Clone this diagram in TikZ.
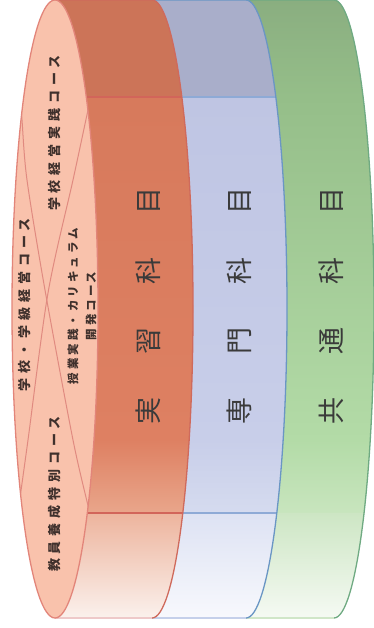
\documentclass[tikz,border=0pt]{standalone}
\usepackage{fontspec}
\usetikzlibrary{shapes.geometric}
\newfontfamily\jp{Noto Sans CJK JP}
\newfontfamily\jpls[LetterSpace=38]{Noto Sans CJK JP}
\newfontfamily\jplsb[LetterSpace=26]{Noto Sans CJK JP}
\definecolor{redTop}{HTML}{CC7458}
\definecolor{redMidA}{HTML}{D77A5C}
\definecolor{redMidB}{HTML}{DE8062}
\definecolor{redLowA}{HTML}{E9A68B}
\definecolor{redLowB}{HTML}{EDB49D}
\definecolor{redBot}{HTML}{FBF2EE}
\definecolor{redEdge}{HTML}{CF6A5C}
\definecolor{redLine}{HTML}{D2655A}
\definecolor{redBotEdge}{HTML}{EEC9C9}
\definecolor{blueTop}{HTML}{A9AECA}
\definecolor{blueMidA}{HTML}{BFC5E3}
\definecolor{blueMidB}{HTML}{C8CEE9}
\definecolor{blueLowA}{HTML}{D5DBEF}
\definecolor{blueLowB}{HTML}{DDE2F3}
\definecolor{blueBot}{HTML}{F8F9FD}
\definecolor{blueEdge}{HTML}{6A96C4}
\definecolor{blueLine}{HTML}{8EAAD6}
\definecolor{blueBotEdge}{HTML}{C5D0EA}
\definecolor{greenTopA}{HTML}{8AAE80}
\definecolor{greenTopB}{HTML}{95BE89}
\definecolor{greenMidB}{HTML}{B3DBA7}
\definecolor{greenLowA}{HTML}{C8E5BE}
\definecolor{greenLowB}{HTML}{CDE6C4}
\definecolor{greenBot}{HTML}{F6FAF4}
\definecolor{greenEdge}{HTML}{6FAA82}
\definecolor{greenBotEdge}{HTML}{D0E6C8}
\definecolor{faceFill}{HTML}{F9C2AC}
\definecolor{faceEdge}{HTML}{E2857A}
\definecolor{faceLine}{HTML}{E08A80}
\definecolor{bandText}{HTML}{3A3A3A}
\definecolor{faceText}{HTML}{3F302C}
\tikzset{
  bandlabel/.style={rotate=90, inner sep=0pt, text=bandText, font=\fontsize{27}{27}\jp},
  facelabel/.style={rotate=90, inner sep=0pt, text=faceText, font=\fontsize{13}{18}\jpls\bfseries},
  facelabelsmall/.style={rotate=90, inner sep=0pt, text=faceText, align=center, font=\fontsize{11.5}{18}\jplsb\bfseries},
  faceline/.style={draw=faceLine, line width=1pt},
}
\newcommand{\gap}{\hspace{43pt}}
\begin{document}
\begin{tikzpicture}[x=1pt,y=1pt]
\useasboundingbox (0,0) rectangle (374,-628);
% ---------- green band ----------
\begin{scope}
\clip (246,0) -- (334,0) arc[start angle=90,end angle=-90,x radius=40pt,y radius=309pt] -- (246,-618) arc[start angle=-90,end angle=90,x radius=41pt,y radius=309pt] -- cycle;
\shade[top color=greenTopA, bottom color=greenTopB] (0,0) rectangle (374,-97);
\shade[top color=greenTopB, bottom color=greenMidB] (0,-97) rectangle (374,-440);
\shade[top color=greenMidB, bottom color=greenLowA] (0,-440) rectangle (374,-513);
\shade[top color=greenLowB, bottom color=greenBot] (0,-513) rectangle (374,-620);
\end{scope}
\draw[greenEdge, line width=1.3pt] (246,0) -- (334,0) arc[start angle=90,end angle=-90,x radius=40pt,y radius=309pt];
\draw[greenBotEdge, line width=1.3pt] (334,-618) -- (246,-618);
% ---------- blue band ----------
\begin{scope}
\clip (152,0) -- (246,0) arc[start angle=90,end angle=-90,x radius=41pt,y radius=309pt] -- (152,-618) arc[start angle=-90,end angle=90,x radius=41pt,y radius=309pt] -- cycle;
\fill[blueTop] (0,0) rectangle (374,-97);
\shade[top color=blueMidA, bottom color=blueMidB] (0,-97) rectangle (374,-440);
\shade[top color=blueMidB, bottom color=blueLowA] (0,-440) rectangle (374,-513);
\shade[top color=blueLowB, bottom color=blueBot] (0,-513) rectangle (374,-620);
\draw[blueLine, line width=1.2pt] (0,-97) -- (374,-97);
\draw[blueLine, line width=1.2pt] (0,-513) -- (374,-513);
\end{scope}
\draw[blueEdge, line width=1.3pt] (152,0) -- (246,0) arc[start angle=90,end angle=-90,x radius=41pt,y radius=309pt];
\draw[blueBotEdge, line width=1.3pt] (246,-618) -- (152,-618);
% ---------- red band ----------
\begin{scope}
\clip (55,0) -- (152,0) arc[start angle=90,end angle=-90,x radius=41pt,y radius=309pt] -- (55,-618) arc[start angle=-90,end angle=90,x radius=43pt,y radius=309pt] -- cycle;
\fill[redTop] (0,0) rectangle (374,-97);
\shade[top color=redMidA, bottom color=redMidB] (0,-97) rectangle (374,-440);
\shade[top color=redMidB, bottom color=redLowA] (0,-440) rectangle (374,-513);
\shade[top color=redLowB, bottom color=redBot] (0,-513) rectangle (374,-620);
\draw[redLine, line width=1.2pt] (0,-97) -- (374,-97);
\draw[redLine, line width=1.2pt] (0,-513) -- (374,-513);
\end{scope}
\draw[redEdge, line width=1.3pt] (55,0) -- (152,0) arc[start angle=90,end angle=-90,x radius=41pt,y radius=309pt];
\draw[redBotEdge, line width=1.3pt] (152,-618) -- (55,-618);
% ---------- front face ----------
\node[draw=faceEdge, fill=faceFill, line width=1.3pt, ellipse, minimum width=86pt, minimum height=618pt, inner sep=0pt] (face) at (55,-309) {};
\begin{scope}
\clip (55,-309) ellipse[x radius=43pt, y radius=309pt];
\draw[faceline] plot[smooth] coordinates {(92,-92) (88,-110) (73,-180) (48,-293) (28,-440) (19,-505) (16,-527)};
\draw[faceline] plot[smooth] coordinates {(20,-95) (22,-120) (27,-180) (45,-290) (73,-440) (89,-510) (93,-530)};
\end{scope}
% ---------- labels ----------
\node[facelabel] (c1) at (55,-133) {学校経営実践コース};
\node[facelabel] (c2) at (25,-305) {学校・学級経営コース};
\node[facelabelsmall] (c3) at (82,-306) {授業実践・カリキュラム\\開発コース};
\node[facelabel] (c4) at (55,-494) {教員養成特別コース};
\node[bandlabel] (b1) at (148,-306) {実\gap 習\gap 科\gap 目};
\node[bandlabel] (b2) at (239,-306) {専\gap 門\gap 科\gap 目};
\node[bandlabel] (b3) at (331,-306) {共\gap 通\gap 科\gap 目};
\end{tikzpicture}
\end{document}
